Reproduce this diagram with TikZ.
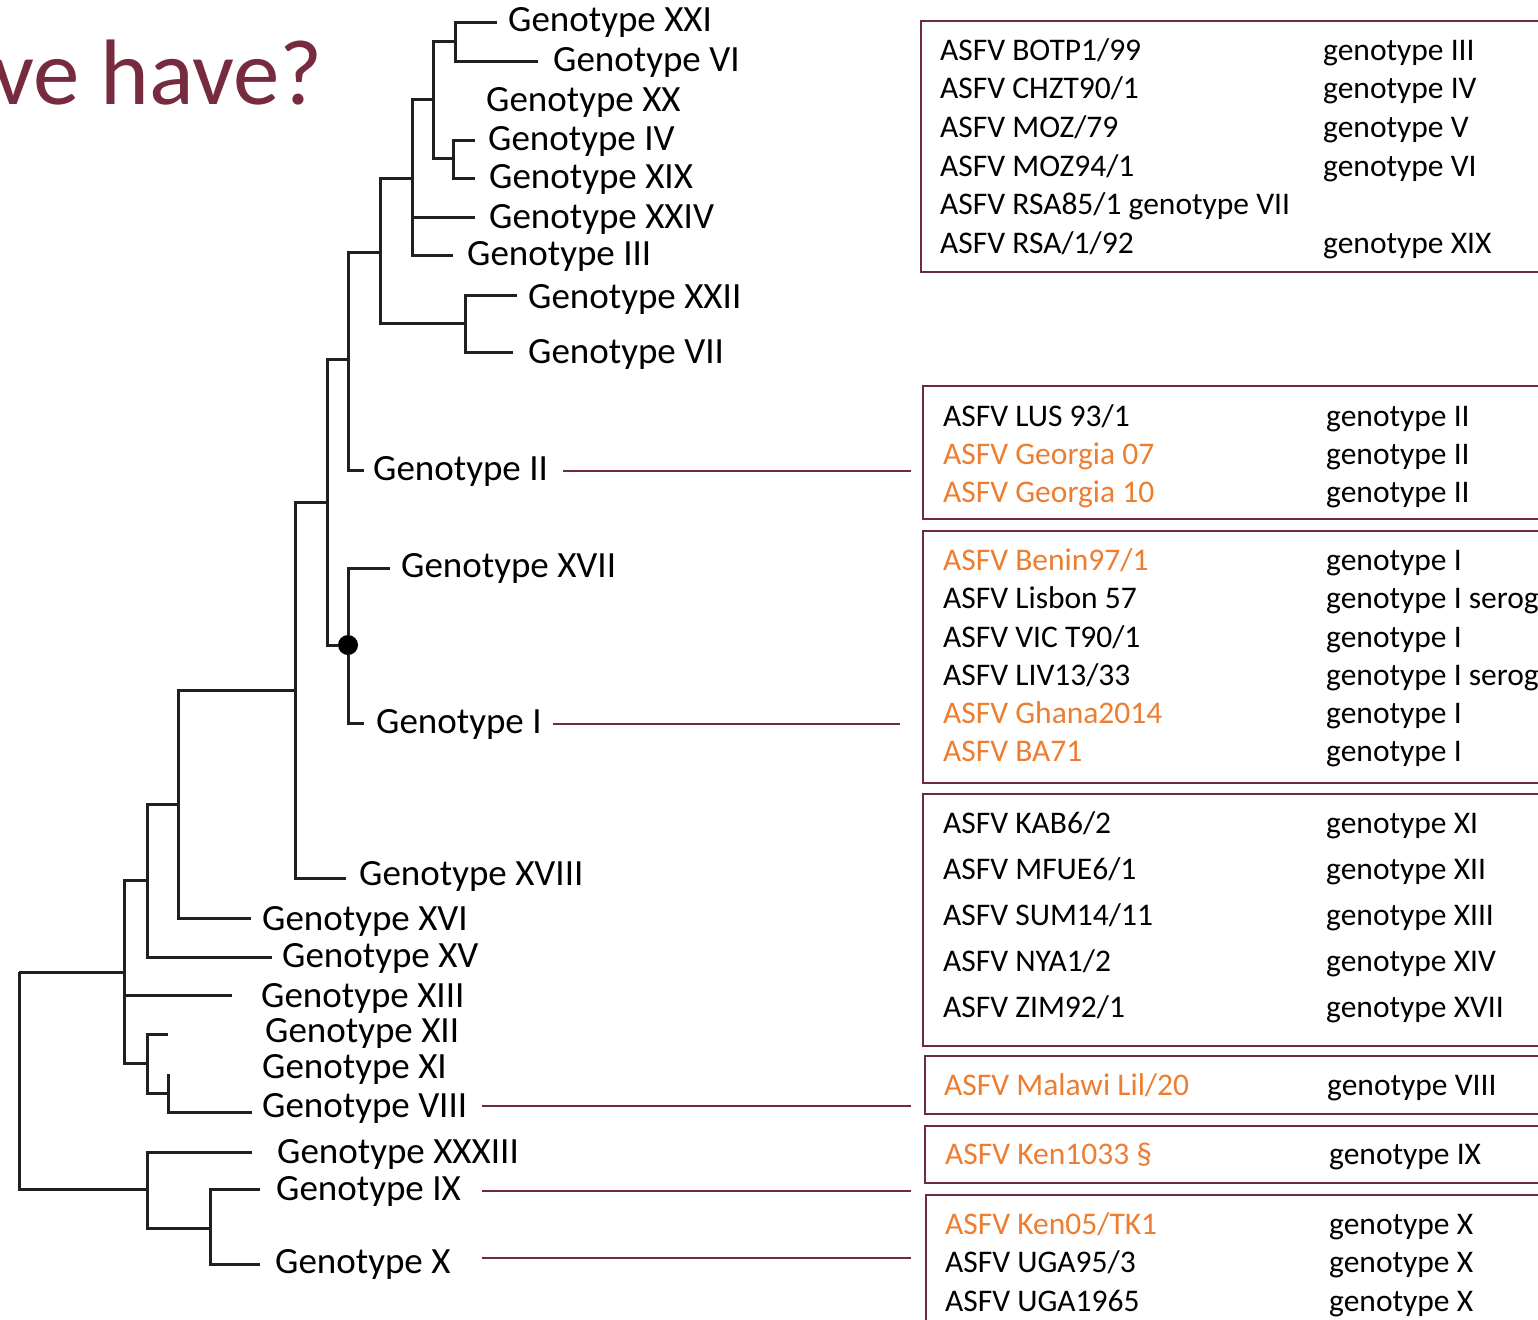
\documentclass[tikz,border=0pt]{standalone}
\usepackage{fontspec}
\setmainfont{Carlito}
\definecolor{titlered}{HTML}{772B3E}
\definecolor{boxred}{HTML}{6E2B3B}
\definecolor{hotorange}{HTML}{ED7D31}
\tikzset{
  branch/.style={line width=3pt,draw=black!88},
  glabel/.style={anchor=base west,inner sep=0pt,font=\fontsize{37}{40}\selectfont},
  gbox/.style={draw=boxred,line width=2.4pt,anchor=north west,minimum width=700pt,inner sep=0pt},
  strain/.style={anchor=base west,inner sep=0pt,font=\fontsize{31.5}{36}\selectfont},
  hot/.style={text=hotorange},
  link/.style={draw=boxred,line width=1.8pt},
  dot/.style={circle,fill=black,inner sep=0pt,minimum size=20pt}
}
\begin{document}
\begin{tikzpicture}[x=1pt,y=-1pt]
\useasboundingbox (0,0) rectangle (1538,1319);
\clip (0,0) rectangle (1538,1319);
\node[anchor=base west,inner sep=0pt,text=titlered,font=\fontsize{93}{100}\selectfont] (title) at (-8,105) {ve have?};

% inner nodes, placed where the parent branch meets them
\coordinate (root) at (19,972);
\coordinate (nJ) at (124,972);
\coordinate (nI) at (147,880);
\coordinate (nH) at (178,804);
\coordinate (nG) at (295,690);
\coordinate (nE) at (327,502);
\coordinate (nD) at (348,359);
\coordinate (nC) at (380,252);
\coordinate (nB) at (412,178);
\coordinate (nA) at (433,100);
\coordinate (n21) at (455,42);
\coordinate (n4) at (453,158);
\coordinate (n22) at (465,323);
\node[dot] (nF) at (348,645) {};
\coordinate (nK) at (147,1063);
\coordinate (nL) at (168,1093);
\coordinate (nM) at (147,1189);
\coordinate (nN) at (210,1228);

% leaf tips
\coordinate (tXXI) at (497,23);
\coordinate (tVI) at (538,62);
\coordinate (tIV) at (475,140);
\coordinate (tXIX) at (475,178);
\coordinate (tXXIV) at (475,217);
\coordinate (tIII) at (453,255);
\coordinate (tXXII) at (517,295);
\coordinate (tVII) at (513,352);
\coordinate (tII) at (364,470);
\coordinate (tXVII) at (390,568);
\coordinate (tI) at (364,723);
\coordinate (tXVIII) at (346,878);
\coordinate (tXVI) at (251,918);
\coordinate (tXV) at (272,957);
\coordinate (tXIII) at (232,995);
\coordinate (tXII) at (168,1034);
\coordinate (tXI) at (168,1074);
\coordinate (tVIII) at (252,1112);
\coordinate (tXXXIII) at (252,1152);
\coordinate (tIX) at (260,1189);
\coordinate (tX) at (260,1264);

\draw[branch] (root) |- (nJ) (root) |- (nM);
\draw[branch] (nJ) |- (nI) (nJ) |- (tXIII) (nJ) |- (nK);
\draw[branch] (nI) |- (nH) (nI) |- (tXV);
\draw[branch] (nH) |- (nG) (nH) |- (tXVI);
\draw[branch] (nG) |- (nE) (nG) |- (tXVIII);
\draw[branch] (nE) |- (nD) (nE) |- (nF);
\draw[branch] (nD) |- (nC) (nD) |- (tII);
\draw[branch] (nC) |- (nB) (nC) |- (n22);
\draw[branch] (nB) |- (nA) (nB) |- (tXXIV) (nB) |- (tIII);
\draw[branch] (nA) |- (n21) (nA) |- (n4);
\draw[branch] (n21) |- (tXXI) (n21) |- (tVI);
\draw[branch] (n4) |- (tIV) (n4) |- (tXIX);
\draw[branch] (n22) |- (tXXII) (n22) |- (tVII);
\draw[branch] (nF) |- (tXVII) (nF) |- (tI);
\draw[branch] (nK) |- (tXII) (nK) |- (nL);
\draw[branch] (nL) |- (tXI) (nL) |- (tVIII);
\draw[branch] (nM) |- (tXXXIII) (nM) |- (nN);
\draw[branch] (nN) |- (tIX) (nN) |- (tX);

% genotype labels
\node[glabel] (lXXI) at (508,32) {Genotype XXI};
\node[glabel] (lVI) at (553,72) {Genotype VI};
\node[glabel] (lXX) at (486,112) {Genotype XX};
\node[glabel] (lIV) at (488,150) {Genotype IV};
\node[glabel] (lXIX) at (489,188) {Genotype XIX};
\node[glabel] (lXXIV) at (489,228) {Genotype XXIV};
\node[glabel] (lIII) at (467,265) {Genotype III};
\node[glabel] (lXXII) at (528,308) {Genotype XXII};
\node[glabel] (lVII) at (528,363) {Genotype VII};
\node[glabel] (lII) at (373,480) {Genotype II};
\node[glabel] (lXVII) at (401,577) {Genotype XVII};
\node[glabel] (lI) at (376,733) {Genotype I};
\node[glabel] (lXVIII) at (359,885) {Genotype XVIII};
\node[glabel] (lXVI) at (262,930) {Genotype XVI};
\node[glabel] (lXV) at (282,967) {Genotype XV};
\node[glabel] (lXIII) at (261,1007) {Genotype XIII};
\node[glabel] (lXII) at (265,1042) {Genotype XII};
\node[glabel] (lXI) at (262,1078) {Genotype XI};
\node[glabel] (lVIII) at (262,1117) {Genotype VIII};
\node[glabel] (lXXXIII) at (277,1163) {Genotype XXXIII};
\node[glabel] (lIX) at (276,1200) {Genotype IX};
\node[glabel] (lX) at (275,1273) {Genotype X};

% strain boxes
\node[gbox,minimum height=251pt] (boxA) at (920,20) {};
\node[gbox,minimum height=133pt] (boxB) at (922,385) {};
\node[gbox,minimum height=252pt] (boxC) at (922,530) {};
\node[gbox,minimum height=252pt] (boxD) at (922,793) {};
\node[gbox,minimum height=58pt] (boxE) at (924,1055) {};
\node[gbox,minimum height=57pt] (boxF) at (924,1125) {};
\node[gbox,minimum height=200pt] (boxG) at (925,1194) {};

\node[strain] (sA1) at (940,61) {ASFV BOTP1/99}; \node[strain] (gA1) at (1323,61) {genotype III};
\node[strain] (sA2) at (940,99) {ASFV CHZT90/1}; \node[strain] (gA2) at (1323,99) {genotype IV};
\node[strain] (sA3) at (940,138) {ASFV MOZ/79}; \node[strain] (gA3) at (1323,138) {genotype V};
\node[strain] (sA4) at (940,176) {ASFV MOZ94/1}; \node[strain] (gA4) at (1323,176) {genotype VI};
\node[strain] (sA5) at (940,214) {ASFV RSA85/1 genotype VII};
\node[strain] (sA6) at (940,253) {ASFV RSA/1/92}; \node[strain] (gA6) at (1323,253) {genotype XIX};

\node[strain] (sB1) at (943,426) {ASFV LUS 93/1}; \node[strain] (gB1) at (1326,426) {genotype II};
\node[strain,hot] (sB2) at (943,464) {ASFV Georgia 07}; \node[strain] (gB2) at (1326,464) {genotype II};
\node[strain,hot] (sB3) at (943,502) {ASFV Georgia 10}; \node[strain] (gB3) at (1326,502) {genotype II};

\node[strain,hot] (sC1) at (943,570) {ASFV Benin97/1}; \node[strain] (gC1) at (1326,570) {genotype I};
\node[strain] (sC2) at (943,608) {ASFV Lisbon 57}; \node[strain] (gC2) at (1326,608) {genotype I serogroup};
\node[strain] (sC3) at (943,647) {ASFV VIC T90/1}; \node[strain] (gC3) at (1326,647) {genotype I};
\node[strain] (sC4) at (943,685) {ASFV LIV13/33}; \node[strain] (gC4) at (1326,685) {genotype I serogroup};
\node[strain,hot] (sC5) at (943,723) {ASFV Ghana2014}; \node[strain] (gC5) at (1326,723) {genotype I};
\node[strain,hot] (sC6) at (943,761) {ASFV BA71}; \node[strain] (gC6) at (1326,761) {genotype I};

\node[strain] (sD1) at (943,833) {ASFV KAB6/2}; \node[strain] (gD1) at (1326,833) {genotype XI};
\node[strain] (sD2) at (943,879) {ASFV MFUE6/1}; \node[strain] (gD2) at (1326,879) {genotype XII};
\node[strain] (sD3) at (943,925) {ASFV SUM14/11}; \node[strain] (gD3) at (1326,925) {genotype XIII};
\node[strain] (sD4) at (943,971) {ASFV NYA1/2}; \node[strain] (gD4) at (1326,971) {genotype XIV};
\node[strain] (sD5) at (943,1017) {ASFV ZIM92/1}; \node[strain] (gD5) at (1326,1017) {genotype XVII};

\node[strain,hot] (sE1) at (944,1095) {ASFV Malawi Lil/20}; \node[strain] (gE1) at (1327,1095) {genotype VIII};

\node[strain,hot] (sF1) at (945,1164) {ASFV Ken1033 §}; \node[strain] (gF1) at (1329,1164) {genotype IX};

\node[strain,hot] (sG1) at (945,1234) {ASFV Ken05/TK1}; \node[strain] (gG1) at (1329,1234) {genotype X};
\node[strain] (sG2) at (945,1272) {ASFV UGA95/3}; \node[strain] (gG2) at (1329,1272) {genotype X};
\node[strain] (sG3) at (945,1311) {ASFV UGA1965}; \node[strain] (gG3) at (1329,1311) {genotype X};

% links from tree labels to boxes
\draw[link] ([xshift=15pt]lII.east) -- ([xshift=-11pt]lII.east -| boxB.west);
\draw[link] ([xshift=11pt]lI.east) -- ([xshift=-22pt]lI.east -| boxC.west);
\draw[link] ([xshift=15pt,yshift=2pt]lVIII.east) -- ([xshift=-13pt,yshift=2pt]lVIII.east -| boxE.west);
\draw[link] ([xshift=21pt]lIX.east) -- ([xshift=-13pt]lIX.east -| boxE.west);
\draw[link] ([xshift=31pt,yshift=6pt]lX.east) -- ([xshift=-13pt,yshift=6pt]lX.east -| boxE.west);
\end{tikzpicture}
\end{document}
